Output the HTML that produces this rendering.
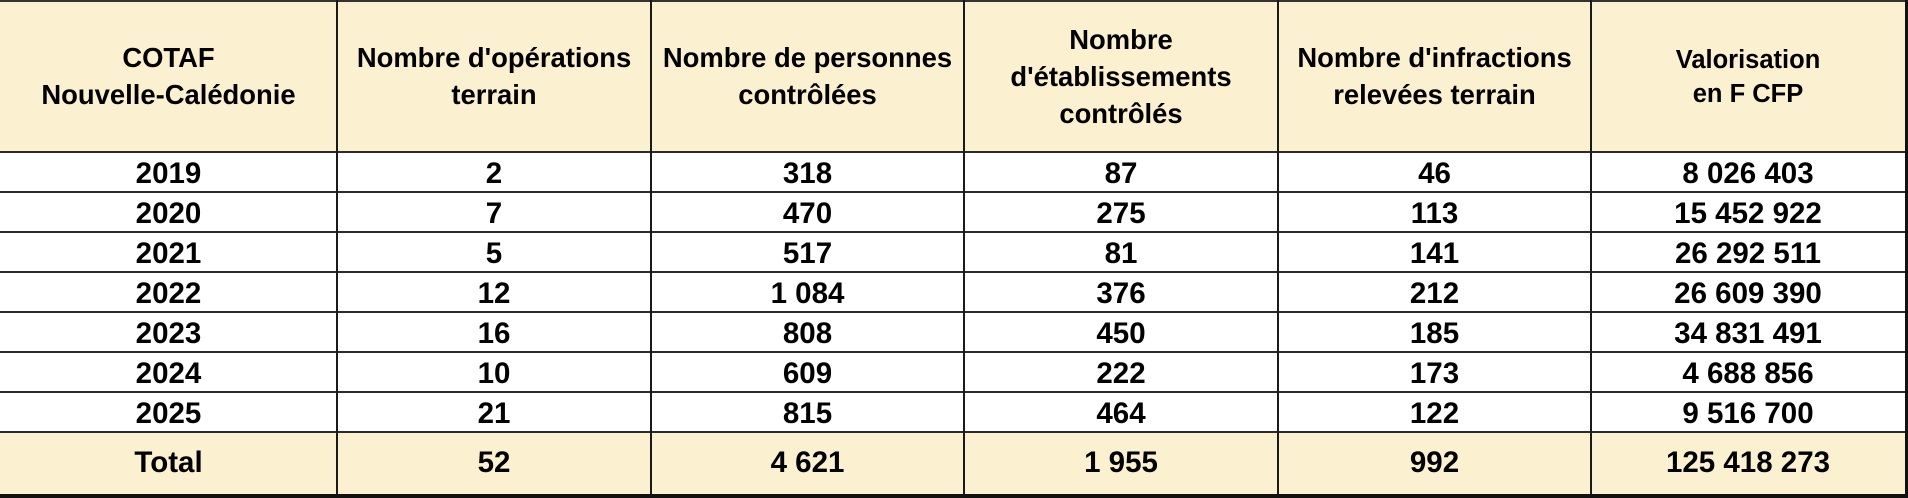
<!DOCTYPE html>
<html>
<head>
<meta charset="utf-8">
<style>
html,body{margin:0;padding:0;background:#fff;}
#w{position:relative;width:1908px;height:498px;overflow:hidden;background:#fff;font-family:"Liberation Sans",Arial,sans-serif;font-weight:bold;color:#000;}
.bg{position:absolute;left:0;width:1905px;background:#FBF0CF;}
.h{position:absolute;left:0;width:1905px;height:2px;background:#2a2a2a;}
.v{position:absolute;top:0;width:2px;height:494px;background:#1a1a1a;}
.c{position:absolute;text-align:center;white-space:nowrap;}
.hd{font-size:27.4px;line-height:37px;}
.d{font-size:29.5px;line-height:40px;height:40px;}
.t{font-size:29.5px;line-height:62px;height:62px;top:432px;}
</style>
</head>
<body>
<div id="w">
  <div class="bg" style="top:0;height:152px;"></div>
  <div class="bg" style="top:432px;height:62px;"></div>

  <!-- header text -->
  <div class="c hd" style="left:0;width:337px;top:39px;">COTAF<br>Nouvelle-Calédonie</div>
  <div class="c hd" style="left:337px;width:314px;top:39px;">Nombre d'opérations<br>terrain</div>
  <div class="c hd" style="left:651px;width:313px;top:39px;">Nombre de personnes<br>contrôlées</div>
  <div class="c hd" style="left:964px;width:314px;top:21px;line-height:37px;">Nombre<br>d'établissements<br>contrôlés</div>
  <div class="c hd" style="left:1278px;width:313px;top:39px;">Nombre d'infractions<br>relevées terrain</div>
  <div class="c hd" style="left:1591px;width:314px;top:43px;font-size:25.5px;line-height:34px;">Valorisation<br>en F CFP</div>

  <!-- rows -->
  <div class="c d" style="left:0;width:337px;top:154px;">2019</div>
  <div class="c d" style="left:337px;width:314px;top:154px;">2</div>
  <div class="c d" style="left:651px;width:313px;top:154px;">318</div>
  <div class="c d" style="left:964px;width:314px;top:154px;">87</div>
  <div class="c d" style="left:1278px;width:313px;top:154px;">46</div>
  <div class="c d" style="left:1591px;width:314px;top:154px;">8 026 403</div>

  <div class="c d" style="left:0;width:337px;top:194px;">2020</div>
  <div class="c d" style="left:337px;width:314px;top:194px;">7</div>
  <div class="c d" style="left:651px;width:313px;top:194px;">470</div>
  <div class="c d" style="left:964px;width:314px;top:194px;">275</div>
  <div class="c d" style="left:1278px;width:313px;top:194px;">113</div>
  <div class="c d" style="left:1591px;width:314px;top:194px;">15 452 922</div>

  <div class="c d" style="left:0;width:337px;top:234px;">2021</div>
  <div class="c d" style="left:337px;width:314px;top:234px;">5</div>
  <div class="c d" style="left:651px;width:313px;top:234px;">517</div>
  <div class="c d" style="left:964px;width:314px;top:234px;">81</div>
  <div class="c d" style="left:1278px;width:313px;top:234px;">141</div>
  <div class="c d" style="left:1591px;width:314px;top:234px;">26 292 511</div>

  <div class="c d" style="left:0;width:337px;top:274px;">2022</div>
  <div class="c d" style="left:337px;width:314px;top:274px;">12</div>
  <div class="c d" style="left:651px;width:313px;top:274px;">1 084</div>
  <div class="c d" style="left:964px;width:314px;top:274px;">376</div>
  <div class="c d" style="left:1278px;width:313px;top:274px;">212</div>
  <div class="c d" style="left:1591px;width:314px;top:274px;">26 609 390</div>

  <div class="c d" style="left:0;width:337px;top:314px;">2023</div>
  <div class="c d" style="left:337px;width:314px;top:314px;">16</div>
  <div class="c d" style="left:651px;width:313px;top:314px;">808</div>
  <div class="c d" style="left:964px;width:314px;top:314px;">450</div>
  <div class="c d" style="left:1278px;width:313px;top:314px;">185</div>
  <div class="c d" style="left:1591px;width:314px;top:314px;">34 831 491</div>

  <div class="c d" style="left:0;width:337px;top:354px;">2024</div>
  <div class="c d" style="left:337px;width:314px;top:354px;">10</div>
  <div class="c d" style="left:651px;width:313px;top:354px;">609</div>
  <div class="c d" style="left:964px;width:314px;top:354px;">222</div>
  <div class="c d" style="left:1278px;width:313px;top:354px;">173</div>
  <div class="c d" style="left:1591px;width:314px;top:354px;">4 688 856</div>

  <div class="c d" style="left:0;width:337px;top:394px;">2025</div>
  <div class="c d" style="left:337px;width:314px;top:394px;">21</div>
  <div class="c d" style="left:651px;width:313px;top:394px;">815</div>
  <div class="c d" style="left:964px;width:314px;top:394px;">464</div>
  <div class="c d" style="left:1278px;width:313px;top:394px;">122</div>
  <div class="c d" style="left:1591px;width:314px;top:394px;">9 516 700</div>

  <!-- total -->
  <div class="c t" style="left:0;width:337px;">Total</div>
  <div class="c t" style="left:337px;width:314px;">52</div>
  <div class="c t" style="left:651px;width:313px;">4 621</div>
  <div class="c t" style="left:964px;width:314px;">1 955</div>
  <div class="c t" style="left:1278px;width:313px;">992</div>
  <div class="c t" style="left:1591px;width:314px;">125 418 273</div>

  <!-- horizontal lines -->
  <div class="h" style="top:0;background:#333;"></div>
  <div class="h" style="top:151px;"></div>
  <div class="h" style="top:191px;"></div>
  <div class="h" style="top:231px;"></div>
  <div class="h" style="top:271px;"></div>
  <div class="h" style="top:311px;"></div>
  <div class="h" style="top:351px;"></div>
  <div class="h" style="top:391px;"></div>
  <div class="h" style="top:431px;"></div>
  <div class="h" style="top:494px;height:4px;width:1908px;background:#111;"></div>

  <!-- vertical lines -->
  <div class="v" style="left:336px;"></div>
  <div class="v" style="left:650px;"></div>
  <div class="v" style="left:963px;"></div>
  <div class="v" style="left:1277px;"></div>
  <div class="v" style="left:1590px;"></div>
  <div class="v" style="left:1905px;width:3px;height:498px;background:#111;"></div>
</div>
</body>
</html>
